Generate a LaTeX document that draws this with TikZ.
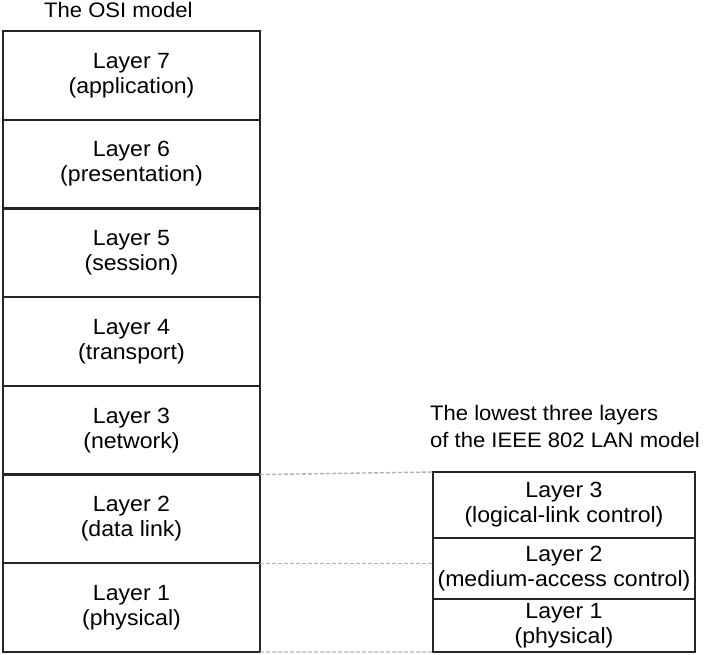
\documentclass[tikz,border=0pt]{standalone}
\usepackage{fontspec}
\setmainfont{Liberation Sans}[FakeStretch=1.05]
\usetikzlibrary{positioning}
\begin{document}
\begin{tikzpicture}[x=1pt,y=-1pt,
  layerbox/.style={draw=black!85, line width=2.4pt, align=center, inner sep=0pt,
    outer sep=0pt, font=\fontsize{22}{25}\selectfont},
  osi/.style={layerbox, minimum width=257pt, minimum height=88.7pt},
  lan/.style={layerbox, minimum width=262pt},
  heading/.style={font=\fontsize{21}{27}\selectfont, align=left, inner sep=0pt},
  guide/.style={draw=black!30, line width=1.4pt, dash pattern=on 4pt off 2pt}]
\useasboundingbox (0,0) rectangle (710,655);

% OSI stack, seven equal rows
\node[osi] (o7) at (131.5,75.4)  {Layer 7\\(application)};
\node[osi, below=0pt of o7] (o6) {Layer 6\\(presentation)};
\node[osi, below=0pt of o6] (o5) {Layer 5\\(session)};
\node[osi, below=0pt of o5] (o4) {Layer 4\\(transport)};
\node[osi, below=0pt of o4] (o3) {Layer 3\\(network)};
\node[osi, below=0pt of o3] (o2) {Layer 2\\(data link)};
\node[osi, below=0pt of o2] (o1) {Layer 1\\(physical)};

\node[heading, anchor=base west] (t1) at (44,18) {The OSI model};

% IEEE 802 lower layers
\node[lan, minimum height=66pt] (r3) at (564,505) {Layer 3\\(logical-link control)};
\node[lan, minimum height=61pt, below=0pt of r3] (r2) {Layer 2\\(medium-access control)};
\node[lan, minimum height=53pt, below=0pt of r2] (r1) {Layer 1\\(physical)};

\node[heading, anchor=base west] (t2) at (430,447)
  {The lowest three layers\\of the IEEE 802 LAN model};

% correspondence guides
\draw[guide] (o2.north east) -- (r3.north west);
\draw[guide] (o1.north east) -- (o1.north east -| r2.west);
\draw[guide] (o1.south east) -- (r1.south west);
\end{tikzpicture}
\end{document}
